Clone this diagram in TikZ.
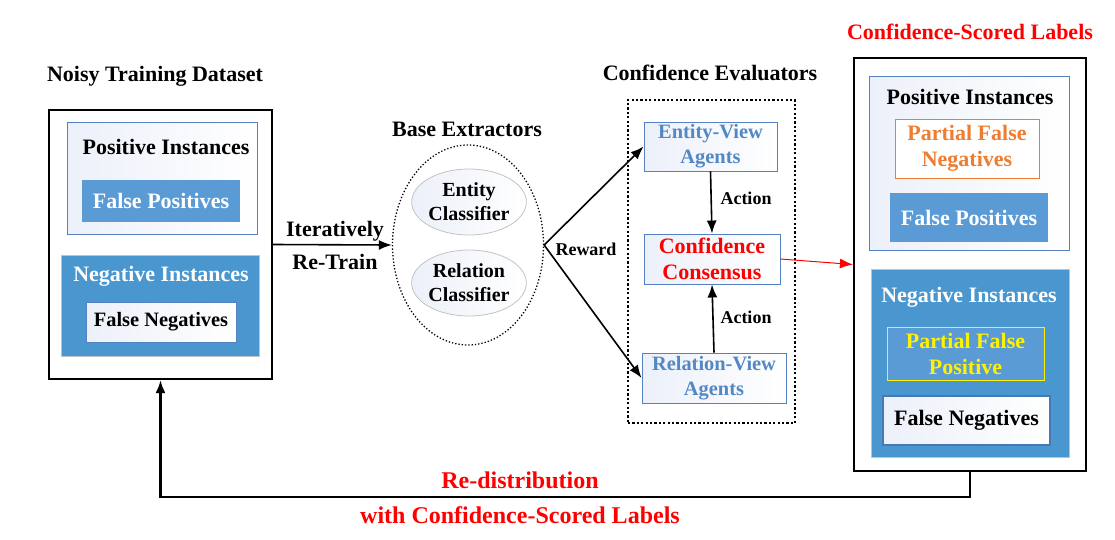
\documentclass[tikz,border=0pt]{standalone}
\usepackage{fontspec}
\setmainfont{Liberation Serif}
\usetikzlibrary{shapes.geometric,arrows.meta}

\definecolor{bluebd}{RGB}{84,130,192}
\definecolor{bluefp}{RGB}{91,155,213}
\definecolor{blueneg}{RGB}{74,151,208}
\definecolor{greybd}{RGB}{195,195,195}
\definecolor{agtxt}{RGB}{84,136,196}
\definecolor{orangepf}{RGB}{237,125,49}
\definecolor{gradbg}{RGB}{236,240,249}
\definecolor{fnbd}{RGB}{70,120,182}

\begin{document}
\begin{tikzpicture}[x=1pt,y=-1pt,
  every node/.style={inner sep=0pt,align=center},
  big/.style={font=\fontsize{22}{26}\selectfont\bfseries},
  mid/.style={font=\fontsize{20.4}{25}\selectfont\bfseries},
  small/.style={font=\fontsize{18}{22}\selectfont\bfseries},
  bottom/.style={font=\fontsize{24}{28}\selectfont\bfseries,red},
  outer/.style={draw=black,line width=2.2pt},
  wbox/.style={draw=bluebd,line width=0.9pt,left color=gradbg,right color=white},
  fpbox/.style={fill=bluefp,text=white,big},
  negbox/.style={draw=greybd,line width=0.9pt,fill=blueneg},
  clf/.style={ellipse,draw=greybd,line width=0.8pt,left color=gradbg,right color=white,
    minimum width=112pt,minimum height=66pt,font=\fontsize{20}{24}\selectfont\bfseries},
  arr/.style={-{Latex[length=13pt,width=10pt]},line width=1.6pt}]

\useasboundingbox (0,0) rectangle (1115,539);

\node [outer,minimum width=223pt,minimum height=269pt] (dl) at (160.5,244.5) {};
\node [big] (tdl) at (155,76) {Noisy Training Dataset};
\node [wbox,minimum width=190pt,minimum height=112pt] (dlp) at (162,178) {};
\node [big] (tdlp) at (166,147) {Positive Instances};
\node [fpbox,minimum width=158pt,minimum height=42pt] (dlfp) at (161,201) {False Positives};
\node [negbox,minimum width=198pt,minimum height=101pt] (dln) at (160,305.5) {};
\node [big,white] (tdln) at (161,276) {Negative Instances};
\node [wbox,mid,minimum width=150pt,minimum height=40pt] (dlfn) at (161,322) {False Negatives};

\node [ellipse,draw=black,dotted,line width=1.3pt,minimum width=151pt,minimum height=200pt] (ext) at (468,245) {};
\node [big] (text) at (467,129) {Base Extractors};
\node [clf] (ent) at (469,202) {Entity\\Classifier};
\node [clf] (rel) at (469,283) {Relation\\Classifier};

\node [big] (it) at (335,231) {Iteratively};
\node [big] (rt) at (335,262) {Re-Train};

\node [draw=black,line width=1.8pt,dash pattern=on 2.2pt off 2.2pt,minimum width=167pt,minimum height=323pt] (eva) at (711.5,261.5) {};
\node [big] (teva) at (710,73) {Confidence Evaluators};
\node [wbox,mid,text=agtxt,minimum width=133pt,minimum height=49pt] (ev) at (710.5,146.5) {Entity-View\\Agents};
\node [wbox,big,text=red,minimum width=136pt,minimum height=50pt] (cc) at (712,259) {Confidence\\Consensus};
\node [wbox,mid,text=agtxt,minimum width=144pt,minimum height=50pt] (rv) at (714,378) {Relation-View\\Agents};

\node [small] (rw) at (586,249) {Reward};
\node [small] (ac1) at (746,198) {Action};
\node [small] (ac2) at (746,317) {Action};

\node [outer,minimum width=232pt,minimum height=413pt] (dr) at (970,264.5) {};
\node [big,red] (tdr) at (970,32) {Confidence-Scored Labels};
\node [wbox,minimum width=200pt,minimum height=174pt] (drp) at (969,163) {};
\node [big] (tdrp) at (970,97) {Positive Instances};
\node [draw=orangepf,line width=1pt,fill=white,big,text=orangepf,minimum width=144pt,minimum height=59pt] (drpn) at (967,148.5) {Partial False\\Negatives};
\node [fpbox,minimum width=158pt,minimum height=49pt] (drfp) at (969,217.5) {False Positives};
\node [negbox,minimum width=198pt,minimum height=188pt] (drn) at (970,363) {};
\node [big,white] (tdrn) at (969,297) {Negative Instances};
\node [draw=yellow,line width=1pt,fill=bluefp,big,text=yellow,minimum width=157pt,minimum height=53pt] (drpp) at (965.5,353.5) {Partial False\\Positive};
\node [draw=fnbd,line width=2pt,left color=gradbg,right color=white,big,minimum width=167pt,minimum height=49pt] (drfn) at (966.5,420.5) {False Negatives};

\coordinate (fb) at (565,497);

\draw [arr] (dl.east) to (ext.west);
\draw [arr] (ext.east) to (ev.west);
\draw [arr] (ext.east) to (rv.west);
\draw [arr] (ev.south) to (cc.north);
\draw [arr] (rv.north) to (cc.south);
\draw [arr,red,line width=1pt] (cc.east) to (dr.west);
\draw [arr,line width=2.2pt] (dr.south) |- (fb) -| (dl.south);

\node [bottom] (rd) at (520,480) {Re-distribution};
\node [bottom] (wc) at (520,515) {with Confidence-Scored Labels};

\end{tikzpicture}
\end{document}
